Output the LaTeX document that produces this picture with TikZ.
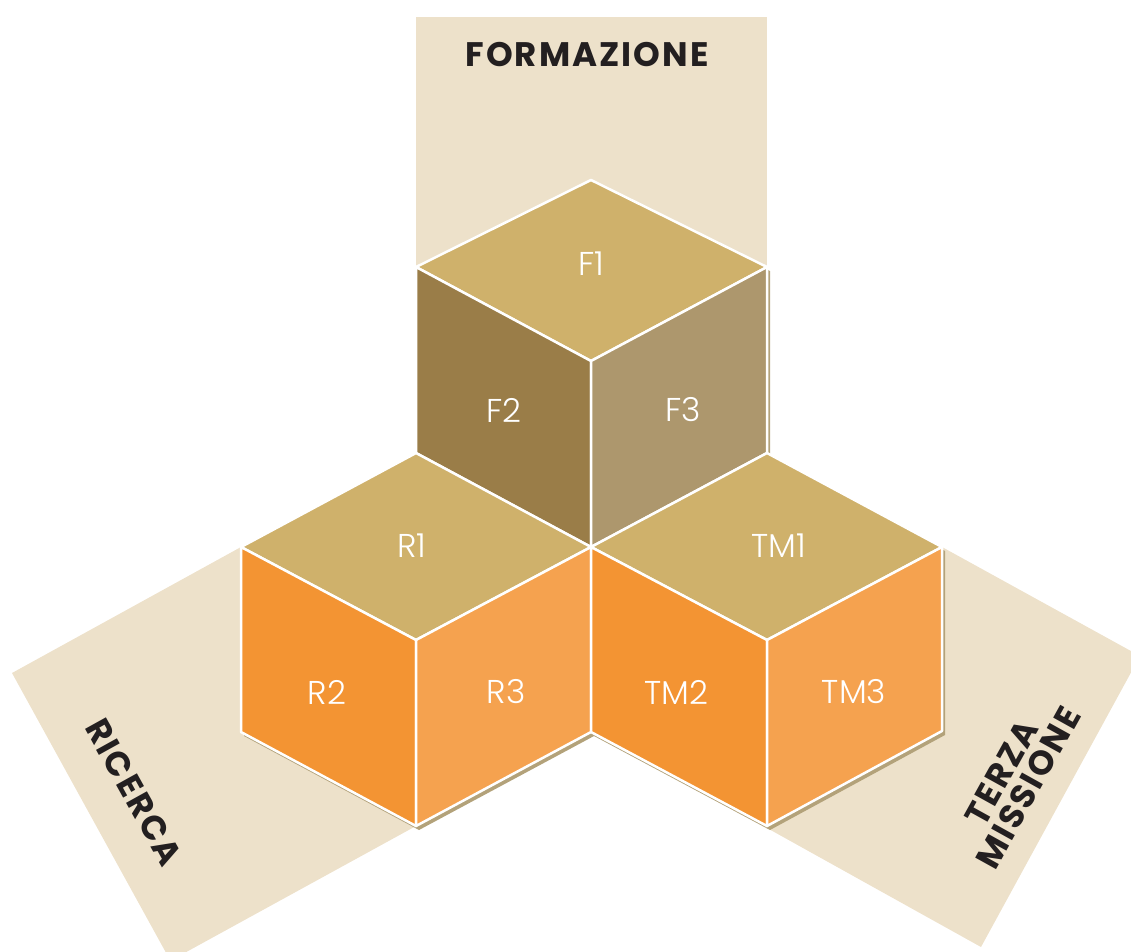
\documentclass[tikz,border=0pt]{standalone}
\usepackage{fontspec}
\newfontfamily\headfont{Poppins}[LetterSpace=6]
\newfontfamily\lightfont{Poppins Light}
\definecolor{band}{HTML}{EDE1CA}
\definecolor{topface}{HTML}{CFB16B}
\definecolor{ftwo}{HTML}{9A7D48}
\definecolor{fthree}{HTML}{AD976D}
\definecolor{darkor}{HTML}{F39433}
\definecolor{lightor}{HTML}{F5A24F}
\definecolor{shade}{HTML}{B3A27A}
\definecolor{ink}{HTML}{231F20}
\begin{document}
\begin{tikzpicture}[x=1pt,y=-1pt,
  face/.style={draw=white, line width=2.5pt, line join=round},
  cubeshadow/.style={fill=shade, shift={(3,4)}},
  cubelabel/.style={text=white, font=\lightfont\fontsize{33}{33}\selectfont, inner sep=0pt},
  bandlabel/.style={text=ink, font=\headfont\bfseries\fontsize{34}{31}\selectfont, inner sep=0pt, align=center}]
\useasboundingbox (0,0) rectangle (1131,951);
% bands
\begin{scope}
  \clip (0,0) rectangle (1131,951);
  \fill[band] (416,17) rectangle (767,300);
  \fill[band] (241,547) -- (12,673) -- (170.4,960.7) -- (416,826) -- cycle;
  \fill[band] (942,547) -- (1140,656) -- (981,947) -- (767,828) -- cycle;
\end{scope}
% F cube
\fill[cubeshadow] (591,180) -- (767,267) -- (767,453) -- (591,547) -- (416,453) -- (416,267) -- cycle;
\filldraw[face, fill=topface] (591,180) -- (767,267) -- (591,361) -- (416,267) -- cycle;
\filldraw[face, fill=ftwo] (416,267) -- (591,361) -- (591,547) -- (416,453) -- cycle;
\filldraw[face, fill=fthree] (591,361) -- (767,267) -- (767,453) -- (591,547) -- cycle;
% shadows of R and TM cubes
\fill[cubeshadow] (416,453) -- (591,547) -- (591,732) -- (416,826) -- (241,732) -- (241,547) -- cycle;
\fill[cubeshadow] (767,453) -- (942,547) -- (942,731) -- (767,826) -- (591,732) -- (591,547) -- cycle;
% R cube
\filldraw[face, fill=topface] (416,453) -- (591,547) -- (416,640) -- (241,547) -- cycle;
\filldraw[face, fill=darkor] (241,547) -- (416,640) -- (416,826) -- (241,732) -- cycle;
\filldraw[face, fill=lightor] (416,640) -- (591,547) -- (591,732) -- (416,826) -- cycle;
% TM cube
\filldraw[face, fill=topface] (767,453) -- (942,547) -- (767,640) -- (591,547) -- cycle;
\filldraw[face, fill=darkor] (591,547) -- (767,640) -- (767,826) -- (591,732) -- cycle;
\filldraw[face, fill=lightor] (767,640) -- (942,547) -- (942,731) -- (767,826) -- cycle;
% labels
\node[cubelabel] (f1) at (591,264) {F1};
\node[cubelabel] (f2) at (504,410) {F2};
\node[cubelabel] (f3) at (683,410) {F3};
\node[cubelabel] (r1) at (412,546) {R1};
\node[cubelabel] (r2) at (327,692) {R2};
\node[cubelabel] (r3) at (506,692) {R3};
\node[cubelabel] (tm1) at (779,546) {TM1};
\node[cubelabel] (tm2) at (676,692) {TM2};
\node[cubelabel] (tm3) at (854,692) {TM3};
\node[bandlabel] (form) at (587,55) {FORMAZIONE};
\node[bandlabel, rotate=-61] (ric) at (134,792) {RICERCA};
\node[bandlabel, rotate=61] (terza) at (1015,780) {TERZA\\MISSIONE};
\end{tikzpicture}
\end{document}
